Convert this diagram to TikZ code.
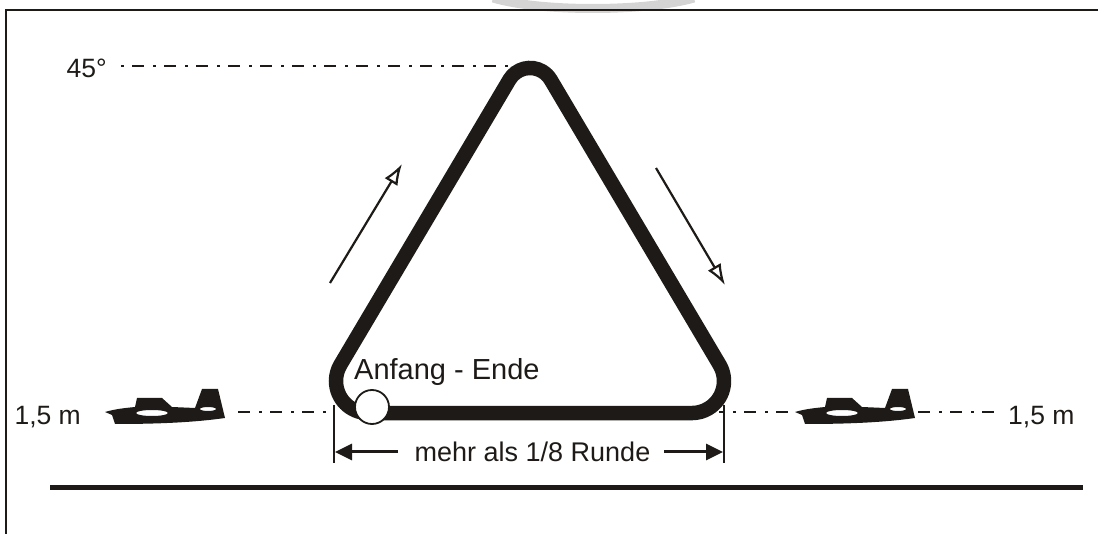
\documentclass[tikz,border=0pt]{standalone}
\usepackage{fontspec}
\setmainfont{Liberation Sans}
\usepackage{tikz}
\usetikzlibrary{arrows.meta}
\definecolor{ink}{HTML}{1E1A17}
\tikzset{
	every node/.style={inner sep=0pt,text=ink,font=\fontsize{26.5}{30}\selectfont},
	centerline/.style={draw=ink,line width=2.4pt,dash pattern=on 3pt off 8pt on 12pt off 9pt},
	dimline/.style={draw=ink,line width=2.4pt},
	dimarrow/.style={draw=ink,line width=3pt,-{Stealth[length=17pt,width=16pt,inset=0pt]}},
	dirarrow/.style={draw=ink,line width=2.2pt,-{Latex[open,length=21pt,width=15pt,fill=white]}},
	plane/.pic={
		\fill[ink,even odd rule] (105,412) .. controls (115,409) and (125,408) .. (135,407) -- (137,398) -- (162,398) -- (172,407) -- (195,408) -- (202,389) -- (218,389) -- (225,418) .. controls (190,423) and (150,424) .. (115,424) -- (112,415) -- cycle
		(152,413) ellipse (16pt and 3pt)
		(208,409) ellipse (8pt and 2pt);
	}
}
\begin{document}
\begin{tikzpicture}[x=1pt,y=-1pt]
	\useasboundingbox (0,0) rectangle (1098,534);
	
	\draw[color=black!17,line width=9pt] (493,-2) .. controls (540,12) and (645,12) .. (694,-2);
	\draw[ink,line width=2.6pt] (6,534) -- (6,10) -- (1098,10);
	
	% course
	\draw[ink,line width=14.5pt] (509.4,79.7) arc (149.3:30.7:24pt)
		-- (719.5,364.7) arc (30.7:-90:32pt)
		-- (368,413) arc (270:149.3:32pt)
		-- cycle;
	\node[circle,draw=ink,fill=white,line width=1.8pt,minimum size=34pt] (start) at (372,407) {};
	\node[anchor=west,font=\fontsize{29}{32}\selectfont] (startlabel) at (354,372) {Anfang - Ende};
	
	% heights
	\node[anchor=east] (angle) at (107,68) {45°};
	\node[anchor=east] (heightl) at (81,417) {1,5 m};
	\node[anchor=west] (heightr) at (1008,417) {1,5 m};
	\coordinate (apex) at (510,66);
	\coordinate (angleend) at (121,66);
	\coordinate (lefttail) at (238,412);
	\coordinate (leftin) at (328,412);
	\coordinate (rightin) at (719,412);
	\coordinate (rightnose) at (795,412);
	\coordinate (righttail) at (918,412);
	\coordinate (rightend) at (998,412);
	\draw[centerline] (angleend) -- (apex);
	\draw[centerline,dash phase=11pt] (lefttail) -- (leftin);
	\draw[centerline,dash phase=18pt] (rightin) -- (rightnose);
	\draw[centerline,dash phase=11pt] (righttail) -- (rightend);
	
	\pic at (0,0) {plane};
	\pic at (690,0) {plane};
	
	% width of the figure
	\coordinate (dimlt) at (334,405);
	\coordinate (dimlb) at (334,463);
	\coordinate (dimrt) at (724,405);
	\coordinate (dimrb) at (724,463);
	\draw[dimline] (dimlt) -- (dimlb);
	\draw[dimline] (dimrt) -- (dimrb);
	\node[font=\fontsize{27}{30}\selectfont] (dimlabel) at (532.5,452) {mehr als 1/8 Runde};
	\coordinate (dimla) at (398,452);
	\coordinate (dimlz) at (335,452);
	\coordinate (dimra) at (664,452);
	\coordinate (dimrz) at (723,452);
	\draw[dimarrow] (dimla) -- (dimlz);
	\draw[dimarrow] (dimra) -- (dimrz);
	
	% direction
	\coordinate (upa) at (330,283);
	\coordinate (upz) at (402,164);
	\coordinate (downa) at (656,168);
	\coordinate (downz) at (725,285);
	\draw[dirarrow] (upa) -- (upz);
	\draw[dirarrow] (downa) -- (downz);
	
	\coordinate (groundl) at (50,487);
	\coordinate (groundr) at (1083,487);
	\draw[ink,line width=5pt] (groundl) -- (groundr);
\end{tikzpicture}
\end{document}
